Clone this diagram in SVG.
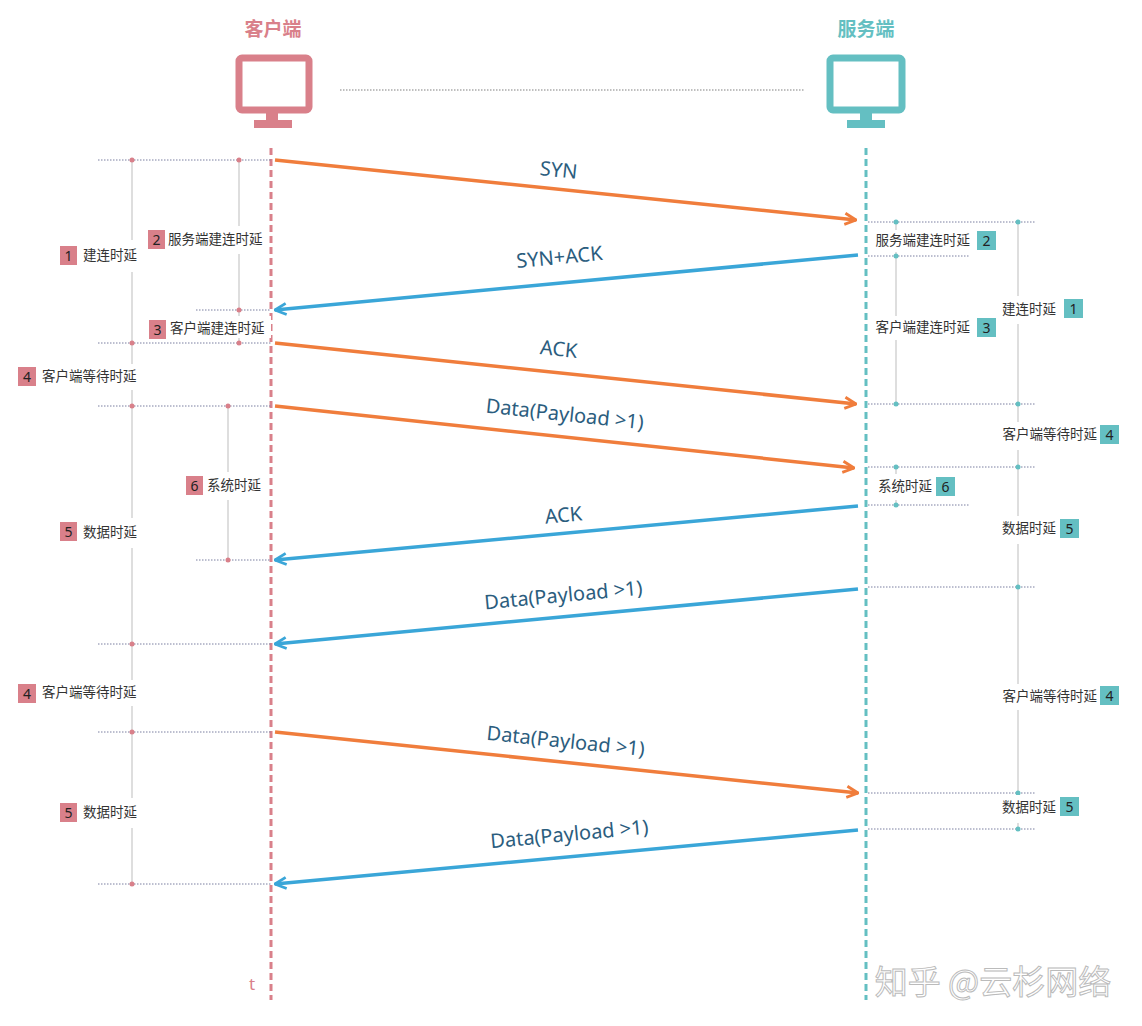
<svg xmlns="http://www.w3.org/2000/svg" width="1142" height="1026" viewBox="0 0 1142 1026">
<style>
.cn{font-family:"Noto Sans CJK SC","Noto Sans",sans-serif;font-size:13.5px;fill:#333}
.bx{font-family:"Noto Sans",sans-serif;font-size:14px;fill:#222;text-anchor:middle}
.lbl{font-family:"Noto Sans",sans-serif;font-size:20px;fill:#2b5d7e;text-anchor:middle}
.dl{stroke:#7a7fa0;stroke-width:1;stroke-dasharray:1.5 1.5;fill:none}
.vl{stroke:#c8c8c8;stroke-width:1.2;fill:none}
.pk{fill:#d9808a}.tl{fill:#64bfc2}
.or{stroke:#f07d3c;stroke-width:3.5;fill:none}
.bl{stroke:#3aa6d8;stroke-width:3.5;fill:none}
</style>
<defs>
<marker id="ao" viewBox="0 0 10 10" refX="9" refY="5" markerWidth="4" markerHeight="4" orient="auto"><path d="M1 1L9 5L1 9" fill="none" stroke="#f07d3c" stroke-width="2"/></marker>
<marker id="ab" viewBox="0 0 10 10" refX="9" refY="5" markerWidth="4" markerHeight="4" orient="auto"><path d="M1 1L9 5L1 9" fill="none" stroke="#3aa6d8" stroke-width="2"/></marker>
</defs>
<rect width="1142" height="1026" fill="#fff"/>
<g id="client">
<text x="273" y="36" font-family="Noto Sans CJK SC,sans-serif" font-weight="bold" font-size="19" fill="#d9808a" text-anchor="middle">客户端</text>
<rect x="239" y="58" width="70" height="52" rx="3" fill="none" stroke="#d9808a" stroke-width="7"/>
<rect x="266" y="112" width="12" height="10" class="pk"/><rect x="254" y="120" width="38" height="8" class="pk"/>
<line x1="271" y1="148" x2="271" y2="1000" stroke="#d9808a" stroke-width="3" stroke-dasharray="7 4"/>
<text x="252" y="990" font-family="Noto Sans,sans-serif" font-size="17" fill="#d9808a" text-anchor="middle">t</text>
</g>
<g id="server">
<text x="866" y="36" font-family="Noto Sans CJK SC,sans-serif" font-weight="bold" font-size="19" fill="#64bfc2" text-anchor="middle">服务端</text>
<rect x="830" y="58" width="72" height="52" rx="3" fill="none" stroke="#64bfc2" stroke-width="7"/>
<rect x="860" y="112" width="12" height="10" class="tl"/><rect x="847" y="120" width="38" height="8" class="tl"/>
<line x1="866" y1="148" x2="866" y2="1000" stroke="#64bfc2" stroke-width="3" stroke-dasharray="7 4"/>
</g>
<line x1="340" y1="90" x2="805" y2="90" stroke="#aaa" stroke-width="1.5" stroke-dasharray="1.5 1.5"/>
<g id="left-measures">
<path class="dl" d="M98 160H271M196 310H271M98 343H271M98 406H271M196 560H271M98 644H271M98 732H271M98 884H271"/>
<path class="vl" d="M132 160V884M239 160V310M239 310V343M228 406V560"/>
<g fill="#d9808a"><circle cx="132" cy="160" r="2.5"/><circle cx="132" cy="343" r="2.5"/><circle cx="132" cy="406" r="2.5"/><circle cx="132" cy="644" r="2.5"/><circle cx="132" cy="732" r="2.5"/><circle cx="132" cy="884" r="2.5"/><circle cx="239" cy="160" r="2.5"/><circle cx="239" cy="310" r="2.5"/><circle cx="239" cy="343" r="2.5"/><circle cx="228" cy="406" r="2.5"/><circle cx="228" cy="560" r="2.5"/></g>
<g fill="#fff"><rect x="55" y="240" width="90" height="32"/><rect x="145" y="226" width="122" height="28"/><rect x="145" y="316" width="126" height="22"/><rect x="14" y="364" width="130" height="26"/><rect x="184" y="472" width="82" height="28"/><rect x="55" y="518" width="90" height="30"/><rect x="14" y="680" width="130" height="26"/><rect x="55" y="798" width="90" height="30"/></g>
<rect x="60" y="246" width="17" height="19" class="pk"/><text x="68.5" y="261" class="bx">1</text><text x="83" y="260" class="cn">建连时延</text>
<rect x="148" y="230" width="17" height="19" class="pk"/><text x="156.5" y="245" class="bx">2</text><text x="168" y="244" class="cn">服务端建连时延</text>
<rect x="149" y="320" width="17" height="19" class="pk"/><text x="157.5" y="335" class="bx">3</text><text x="170" y="333" class="cn">客户端建连时延</text>
<rect x="18" y="367" width="18" height="19" class="pk"/><text x="27" y="382" class="bx">4</text><text x="42" y="381" class="cn">客户端等待时延</text>
<rect x="186" y="476" width="17" height="19" class="pk"/><text x="194.5" y="491" class="bx">6</text><text x="207" y="490" class="cn">系统时延</text>
<rect x="60" y="522" width="17" height="19" class="pk"/><text x="68.5" y="537" class="bx">5</text><text x="83" y="537" class="cn">数据时延</text>
<rect x="18" y="684" width="18" height="19" class="pk"/><text x="27" y="699" class="bx">4</text><text x="42" y="697" class="cn">客户端等待时延</text>
<rect x="60" y="803" width="17" height="19" class="pk"/><text x="68.5" y="818" class="bx">5</text><text x="83" y="817" class="cn">数据时延</text>
</g>
<g id="right-measures">
<path class="dl" d="M868 222H1035M868 256H970M868 404H1035M868 467H1035M868 505H970M868 587H1035M868 793H1035M868 829H1035"/>
<path class="vl" d="M896 222V404M896 467V505M1018 222V829"/>
<g fill="#64bfc2"><circle cx="896" cy="222" r="2.5"/><circle cx="896" cy="256" r="2.5"/><circle cx="896" cy="404" r="2.5"/><circle cx="896" cy="467" r="2.5"/><circle cx="896" cy="505" r="2.5"/><circle cx="1018" cy="222" r="2.5"/><circle cx="1018" cy="404" r="2.5"/><circle cx="1018" cy="467" r="2.5"/><circle cx="1018" cy="587" r="2.5"/><circle cx="1018" cy="793" r="2.5"/><circle cx="1018" cy="829" r="2.5"/></g>
<g fill="#fff"><rect x="872" y="230" width="126" height="22"/><rect x="872" y="316" width="126" height="24"/><rect x="998" y="296" width="88" height="28"/><rect x="996" y="422" width="126" height="28"/><rect x="874" y="474" width="82" height="26"/><rect x="998" y="516" width="84" height="28"/><rect x="996" y="684" width="126" height="26"/><rect x="998" y="795" width="84" height="28"/></g>
<text x="970" y="245" class="cn" text-anchor="end">服务端建连时延</text><rect x="977" y="231" width="19" height="19" class="tl"/><text x="986.5" y="246" class="bx">2</text>
<text x="970" y="332" class="cn" text-anchor="end">客户端建连时延</text><rect x="977" y="318" width="19" height="19" class="tl"/><text x="986.5" y="333" class="bx">3</text>
<text x="1056" y="314" class="cn" text-anchor="end">建连时延</text><rect x="1064" y="299" width="19" height="19" class="tl"/><text x="1073.5" y="314" class="bx">1</text>
<text x="1097" y="439" class="cn" text-anchor="end">客户端等待时延</text><rect x="1100" y="425" width="19" height="19" class="tl"/><text x="1109.5" y="440" class="bx">4</text>
<text x="932" y="491" class="cn" text-anchor="end">系统时延</text><rect x="936" y="477" width="19" height="19" class="tl"/><text x="945.5" y="492" class="bx">6</text>
<text x="1056" y="533" class="cn" text-anchor="end">数据时延</text><rect x="1060" y="519" width="19" height="19" class="tl"/><text x="1069.5" y="534" class="bx">5</text>
<text x="1097" y="701" class="cn" text-anchor="end">客户端等待时延</text><rect x="1100" y="686" width="19" height="19" class="tl"/><text x="1109.5" y="701" class="bx">4</text>
<text x="1056" y="812" class="cn" text-anchor="end">数据时延</text><rect x="1060" y="797" width="19" height="19" class="tl"/><text x="1069.5" y="812" class="bx">5</text>
</g>
<g id="connectors">
<line x1="275" y1="160" x2="856" y2="220" class="or" marker-end="url(#ao)"/>
<line x1="858" y1="255" x2="275" y2="310" class="bl" marker-end="url(#ab)"/>
<line x1="275" y1="343" x2="856" y2="404" class="or" marker-end="url(#ao)"/>
<line x1="275" y1="406" x2="854" y2="468" class="or" marker-end="url(#ao)"/>
<line x1="858" y1="506" x2="275" y2="560" class="bl" marker-end="url(#ab)"/>
<line x1="858" y1="589" x2="275" y2="644" class="bl" marker-end="url(#ab)"/>
<line x1="275" y1="732" x2="858" y2="793" class="or" marker-end="url(#ao)"/>
<line x1="858" y1="830" x2="275" y2="884" class="bl" marker-end="url(#ab)"/>
<text class="lbl" transform="translate(558,177) rotate(5.9)">SYN</text>
<text class="lbl" transform="translate(560,264) rotate(-5.4)">SYN+ACK</text>
<text class="lbl" transform="translate(558,356) rotate(6)">ACK</text>
<text class="lbl" transform="translate(564,421) rotate(6.1)">Data(Payload &gt;1)</text>
<text class="lbl" transform="translate(564,522) rotate(-5.3)">ACK</text>
<text class="lbl" transform="translate(564,602) rotate(-5.4)">Data(Payload &gt;1)</text>
<text class="lbl" transform="translate(565,748) rotate(5.9)">Data(Payload &gt;1)</text>
<text class="lbl" transform="translate(570,841) rotate(-5.3)">Data(Payload &gt;1)</text>
</g>
<text x="993" y="994" font-family="Noto Sans CJK SC,sans-serif" font-size="33" fill="#fff" stroke="#bbb" stroke-width="1" text-anchor="middle">知乎 @云杉网络</text>
</svg>
